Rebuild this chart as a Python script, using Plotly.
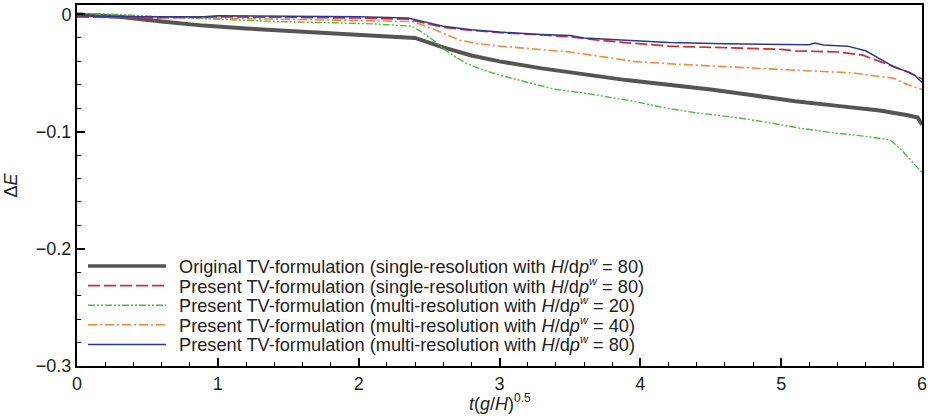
import plotly.graph_objects as go

# ---- data ----
t_orig = [0, 0.3, 0.6, 0.9, 1.2, 1.5, 1.8, 2.1, 2.4, 2.5, 2.6, 2.8, 3.0, 3.3, 3.6, 3.9, 4.2, 4.5, 4.8, 5.1, 5.4, 5.7, 5.9, 5.97, 6.0]
e_orig = [0, -0.002, -0.006, -0.0095, -0.012, -0.014, -0.016, -0.018, -0.020, -0.024, -0.028, -0.035, -0.040,
          -0.046, -0.051, -0.056, -0.060, -0.064, -0.069, -0.074, -0.078, -0.082, -0.086, -0.088, -0.094]

t_single80 = [0, 0.5, 1.0, 1.5, 2.0, 2.35, 2.45, 2.6, 2.8, 3.0, 3.3, 3.5, 3.7, 3.9, 4.2, 4.5, 5.0, 5.1, 5.4, 5.58, 5.7, 5.8, 5.9, 6.0]
e_single80 = [-0.002, -0.003, -0.002, -0.0025, -0.003, -0.004, -0.007, -0.011, -0.0135, -0.0155, -0.0175, -0.019,
              -0.022, -0.024, -0.027, -0.028, -0.0297, -0.031, -0.032, -0.0347, -0.040, -0.045, -0.049, -0.055]

t_multi20 = [0, 0.3, 0.6, 1.0, 1.4, 1.8, 2.1, 2.38, 2.45, 2.53, 2.6, 2.67, 2.77, 2.9, 3.0, 3.2, 3.4, 3.6, 3.86, 3.95,
             4.19, 4.4, 4.66, 4.9, 5.13, 5.37, 5.6, 5.77, 5.85, 5.93, 6.0]
e_multi20 = [0.001, 0.0, -0.002, -0.004, -0.006, -0.007, -0.008, -0.010, -0.015, -0.022, -0.029, -0.035, -0.042,
             -0.048, -0.0517, -0.058, -0.064, -0.067, -0.072, -0.074, -0.080, -0.084, -0.0876, -0.092, -0.097,
             -0.101, -0.104, -0.107, -0.115, -0.126, -0.135]

t_multi40 = [0, 0.5, 1.0, 1.5, 2.0, 2.38, 2.5, 2.6, 2.72, 2.85, 3.0, 3.3, 3.5, 3.7, 3.95, 4.2, 4.5, 5.0, 5.5, 5.8, 5.9, 6.0]
e_multi40 = [-0.001, -0.002, -0.003, -0.004, -0.005, -0.006, -0.011, -0.016, -0.022, -0.025, -0.027, -0.030, -0.032,
             -0.0355, -0.040, -0.042, -0.044, -0.047, -0.0497, -0.0545, -0.060, -0.064]

t_multi80 = [0, 0.5, 0.9, 1.0, 1.5, 2.0, 2.35, 2.45, 2.6, 2.8, 3.0, 3.3, 3.5, 3.6, 3.9, 4.2, 4.6, 5.0, 5.2, 5.24, 5.3,
             5.47, 5.6, 5.8, 5.9, 5.95, 6.0]
e_multi80 = [-0.001, -0.002, -0.002, -0.001, -0.0015, -0.002, -0.003, -0.006, -0.010, -0.013, -0.015, -0.017, -0.018,
             -0.020, -0.022, -0.024, -0.025, -0.0255, -0.0258, -0.0243, -0.026, -0.027, -0.031, -0.0447, -0.049,
             -0.052, -0.058]

SUPW = "<sup><span style='font-size:11px'><i>w</i></span></sup>"
names = [
    "Original TV-formulation (single-resolution with <i>H</i>/d<i>p</i>" + SUPW + " = 80)",
    "Present TV-formulation (single-resolution with <i>H</i>/d<i>p</i>" + SUPW + " = 80)",
    "Present TV-formulation (multi-resolution with <i>H</i>/d<i>p</i>" + SUPW + " = 20)",
    "Present TV-formulation (multi-resolution with <i>H</i>/d<i>p</i>" + SUPW + " = 40)",
    "Present TV-formulation (multi-resolution with <i>H</i>/d<i>p</i>" + SUPW + " = 80)",
]
x_ticks = [0, 1, 2, 3, 4, 5, 6]
y_ticks = [0, -0.1, -0.2, -0.3]
y_tick_text = ["0", "\u22120.1", "\u22120.2", "\u22120.3"]
x_title = "<i>t</i>(<i>g</i>/<i>H</i>)<sup><span style='font-size:12px'>0.5</span></sup>"
y_title = "\u0394<i>E</i>"

# ---- styles ----
colors = ["#555555", "#d42a33", "#52b848", "#f4883a", "#2b3990"]
widths = [4, 1.7, 1.4, 1.6, 1.5]
dashes = ["solid", "12px,4px", "7px,2px,2px,2px,2px,2px", "9px,3px,2px,3px", "solid"]
series = [(t_orig, e_orig), (t_single80, e_single80), (t_multi20, e_multi20),
          (t_multi40, e_multi40), (t_multi80, e_multi80)]

FONT = "Liberation Sans, Arial, Helvetica, sans-serif"
TXT = "#222222"
W, H = 928, 419
L, R, T, B = 77, 6, 5, 53
pw, ph = W - L - R, H - T - B

fig = go.Figure()
order = [0, 2, 3, 1, 4]
for i in order:
    tx, ey = series[i]
    fig.add_trace(go.Scatter(x=tx, y=ey, mode="lines", name=names[i], showlegend=False,
                             line=dict(color=colors[i], width=widths[i], dash=dashes[i])))

# manual legend (long line samples as in the reference)
row_y = [266, 285.6, 305.2, 324.8, 344.4]
shapes = []
annotations = []
for i in range(5):
    yp = (H - B - row_y[i]) / ph
    shapes.append(dict(type="line", xref="paper", yref="paper",
                       x0=(88 - L) / pw, x1=(166 - L) / pw, y0=yp, y1=yp,
                       line=dict(color=colors[i], width=widths[i] if i else 3.5, dash=dashes[i])))
    annotations.append(dict(xref="paper", yref="paper", x=(178 - L) / pw, y=yp,
                            xanchor="left", yanchor="middle", showarrow=False, borderpad=0,
                            text=names[i], font=dict(family=FONT, size=18.2, color=TXT)))

# x-axis title as annotation (to sit closer to tick labels, as in reference)
annotations.append(dict(xref="paper", yref="paper", x=0.5, y=(H - B - 403) / ph,
                        xanchor="center", yanchor="middle", showarrow=False,
                        text=x_title, font=dict(family=FONT, size=18, color=TXT)))

fig.update_layout(
    width=W, height=H,
    margin=dict(l=L, r=R, t=T, b=B, autoexpand=False),
    paper_bgcolor="white", plot_bgcolor="white",
    font=dict(family=FONT, size=18, color=TXT),
    shapes=shapes, annotations=annotations,
    showlegend=False,
)
fig.update_xaxes(
    automargin=False,
    range=[0, 6], tickvals=x_ticks, ticktext=[str(v) for v in x_ticks],
    showgrid=False, zeroline=False,
    showline=True, linecolor="#000", linewidth=2, mirror=True,
    ticks="inside", ticklen=8, tickwidth=1.5, tickcolor="#000",
    minor=dict(dtick=0.2, ticks="inside", ticklen=4, tickwidth=1.2, tickcolor="#000", showgrid=False),
    tickfont=dict(size=18, color=TXT), ticklabelstandoff=0,
)
fig.update_yaxes(
    automargin=False,
    range=[-0.3, 0.0081], tickvals=y_ticks, ticktext=y_tick_text,
    showgrid=False, zeroline=False,
    showline=True, linecolor="#000", linewidth=2, mirror=True,
    ticks="inside", ticklen=8, tickwidth=1.5, tickcolor="#000",
    minor=dict(dtick=0.02, ticks="inside", ticklen=4, tickwidth=1.2, tickcolor="#000", showgrid=False),
    tickfont=dict(size=18, color=TXT), ticklabelstandoff=0,
    title=dict(text=y_title, font=dict(size=18, color=TXT), standoff=14),
)

fig.write_html("out.html", config={"displayModeBar": False},
               post_script="document.body.style.margin='0';")
